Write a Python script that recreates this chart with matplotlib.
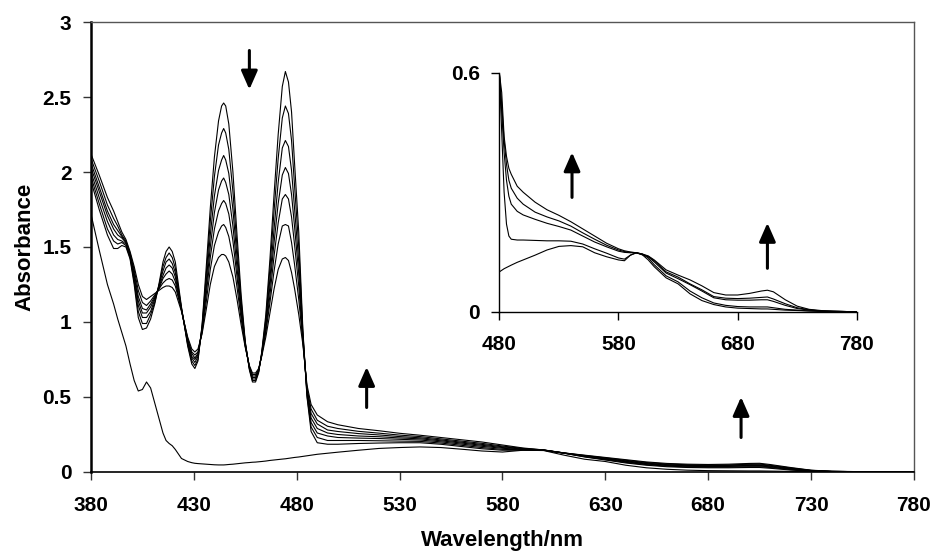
import matplotlib
matplotlib.use('Agg')
import matplotlib.pyplot as plt

plt.rcParams['font.family'] = ['Liberation Sans', 'DejaVu Sans']
plt.rcParams['font.weight'] = 'bold'

# ---- main spectra (wavelength grid shared by all traces) ----
wavelength = [380, 384, 388, 391, 393, 395, 397, 399, 401, 403, 405, 407, 409, 411, 413, 415,
              416.5, 418, 419.5, 421,
              424, 427, 429, 430.5, 432, 434, 436, 438, 440, 442, 443.5, 444.5, 445.5, 447, 449,
              451, 453, 455, 457, 458.5, 460, 461.5, 463, 465, 467, 469, 471, 473, 474.5, 476,
              477.5, 479, 481, 483, 485, 487, 490,
              495, 500, 510, 520, 530, 540, 550, 560, 570, 580, 590, 600, 610, 620, 630, 640,
              650, 660, 670, 680, 690, 700, 705, 710, 720, 730, 740, 760, 780]

abs_t0 = [1.94, 1.75, 1.58, 1.49, 1.49, 1.51, 1.50, 1.42, 1.25, 1.03, 0.95, 0.96, 1.02, 1.12, 1.25, 1.40,
          1.47, 1.50, 1.47, 1.40,
          1.10, 0.84, 0.72, 0.69, 0.74, 0.98, 1.36, 1.76, 2.10, 2.34, 2.44, 2.46, 2.44, 2.32, 2.00,
          1.58, 1.18, 0.87, 0.68, 0.60, 0.60, 0.66, 0.80, 1.05, 1.42, 1.85, 2.25, 2.57, 2.67, 2.60,
          2.40, 2.05, 1.60, 0.95, 0.50, 0.27, 0.195,
          0.185, 0.185, 0.19, 0.193, 0.195, 0.195, 0.185, 0.17, 0.155, 0.145, 0.145, 0.145, 0.125, 0.10, 0.08, 0.06,
          0.045, 0.035, 0.03, 0.028, 0.028, 0.03, 0.03, 0.025, 0.013, 0.005, 0.002, 0.0, 0.0]

abs_t1 = [1.97, 1.79, 1.62, 1.54, 1.52, 1.53, 1.51, 1.43, 1.27, 1.07, 0.99, 0.99, 1.05, 1.13, 1.24, 1.37,
          1.43, 1.46, 1.43, 1.36,
          1.09, 0.85, 0.74, 0.71, 0.75, 0.97, 1.31, 1.67, 1.97, 2.18, 2.26, 2.29, 2.26, 2.15, 1.87,
          1.50, 1.14, 0.86, 0.69, 0.61, 0.61, 0.67, 0.79, 1.02, 1.36, 1.74, 2.09, 2.36, 2.44, 2.39,
          2.21, 1.90, 1.50, 0.93, 0.51, 0.30, 0.23,
          0.21, 0.21, 0.21, 0.208, 0.206, 0.204, 0.193, 0.178, 0.163, 0.151, 0.148, 0.145, 0.125, 0.102, 0.083, 0.064,
          0.049, 0.039, 0.034, 0.032, 0.032, 0.035, 0.035, 0.03, 0.016, 0.006, 0.003, 0.0, 0.0]

abs_t2 = [2.00, 1.83, 1.67, 1.58, 1.55, 1.54, 1.52, 1.44, 1.29, 1.11, 1.03, 1.03, 1.07, 1.15, 1.24, 1.34,
          1.40, 1.42, 1.39, 1.33,
          1.09, 0.86, 0.76, 0.73, 0.77, 0.96, 1.26, 1.58, 1.84, 2.01, 2.08, 2.11, 2.08, 1.99, 1.75,
          1.43, 1.11, 0.86, 0.69, 0.62, 0.62, 0.67, 0.79, 1.00, 1.29, 1.62, 1.93, 2.16, 2.21, 2.17,
          2.01, 1.75, 1.40, 0.91, 0.53, 0.33, 0.26,
          0.24, 0.23, 0.226, 0.223, 0.218, 0.213, 0.201, 0.186, 0.171, 0.158, 0.15, 0.146, 0.126, 0.104, 0.086, 0.068,
          0.053, 0.043, 0.038, 0.036, 0.037, 0.04, 0.04, 0.034, 0.019, 0.008, 0.003, 0.0, 0.0]

abs_t3 = [2.03, 1.87, 1.71, 1.62, 1.58, 1.56, 1.53, 1.45, 1.31, 1.14, 1.06, 1.06, 1.10, 1.16, 1.23, 1.31,
          1.36, 1.38, 1.36, 1.30,
          1.08, 0.87, 0.77, 0.75, 0.78, 0.95, 1.22, 1.50, 1.73, 1.88, 1.94, 1.96, 1.93, 1.85, 1.64,
          1.36, 1.08, 0.85, 0.70, 0.63, 0.63, 0.68, 0.78, 0.97, 1.24, 1.53, 1.79, 1.98, 2.03, 1.99,
          1.85, 1.63, 1.32, 0.90, 0.54, 0.36, 0.29,
          0.26, 0.25, 0.24, 0.235, 0.227, 0.221, 0.208, 0.193, 0.178, 0.163, 0.153, 0.146, 0.126, 0.106, 0.089, 0.071,
          0.056, 0.046, 0.041, 0.039, 0.04, 0.044, 0.044, 0.038, 0.022, 0.009, 0.004, 0.001, 0.0]

abs_t4 = [2.06, 1.90, 1.74, 1.65, 1.61, 1.57, 1.53, 1.45, 1.33, 1.17, 1.09, 1.08, 1.12, 1.17, 1.22, 1.29,
          1.32, 1.34, 1.32, 1.27,
          1.08, 0.88, 0.79, 0.76, 0.79, 0.94, 1.18, 1.43, 1.62, 1.74, 1.79, 1.81, 1.79, 1.72, 1.54,
          1.30, 1.05, 0.84, 0.70, 0.64, 0.64, 0.68, 0.78, 0.95, 1.18, 1.44, 1.66, 1.82, 1.85, 1.82,
          1.70, 1.51, 1.24, 0.88, 0.55, 0.39, 0.32,
          0.28, 0.27, 0.256, 0.247, 0.236, 0.228, 0.214, 0.199, 0.184, 0.168, 0.155, 0.146, 0.126, 0.108, 0.091, 0.074,
          0.059, 0.049, 0.044, 0.042, 0.044, 0.048, 0.048, 0.041, 0.024, 0.01, 0.004, 0.001, 0.0]

abs_t5 = [2.09, 1.94, 1.78, 1.69, 1.64, 1.58, 1.54, 1.46, 1.35, 1.21, 1.13, 1.11, 1.14, 1.18, 1.22, 1.26,
          1.28, 1.29, 1.28, 1.24,
          1.08, 0.89, 0.80, 0.78, 0.80, 0.93, 1.13, 1.35, 1.51, 1.60, 1.64, 1.65, 1.63, 1.57, 1.43,
          1.23, 1.02, 0.84, 0.70, 0.65, 0.65, 0.68, 0.78, 0.93, 1.13, 1.34, 1.52, 1.64, 1.65, 1.64,
          1.53, 1.38, 1.15, 0.87, 0.56, 0.42, 0.345,
          0.305, 0.29, 0.271, 0.259, 0.246, 0.236, 0.221, 0.206, 0.191, 0.173, 0.157, 0.147, 0.127, 0.11, 0.094, 0.078,
          0.063, 0.053, 0.048, 0.046, 0.047, 0.052, 0.053, 0.045, 0.027, 0.011, 0.004, 0.001, 0.0]

abs_t6 = [2.12, 1.98, 1.83, 1.74, 1.67, 1.60, 1.55, 1.47, 1.37, 1.25, 1.17, 1.15, 1.17, 1.19, 1.21, 1.23,
          1.24, 1.24, 1.23, 1.20,
          1.07, 0.90, 0.82, 0.80, 0.82, 0.92, 1.08, 1.25, 1.37, 1.43, 1.45, 1.45, 1.44, 1.40, 1.30,
          1.15, 0.98, 0.83, 0.71, 0.66, 0.66, 0.69, 0.77, 0.90, 1.06, 1.22, 1.35, 1.42, 1.43, 1.41,
          1.33, 1.22, 1.05, 0.85, 0.58, 0.45, 0.38,
          0.335, 0.315, 0.29, 0.275, 0.258, 0.245, 0.23, 0.215, 0.20, 0.18, 0.16, 0.147, 0.127, 0.112, 0.097, 0.082,
          0.067, 0.057, 0.052, 0.05, 0.052, 0.057, 0.058, 0.05, 0.03, 0.012, 0.005, 0.001, 0.0]

abs_final = [1.72, 1.48, 1.25, 1.12, 1.02, 0.93, 0.84, 0.72, 0.61, 0.54, 0.55, 0.60, 0.56, 0.46, 0.36, 0.26,
             0.21, 0.19, 0.175, 0.15,
             0.09, 0.07, 0.062, 0.058, 0.056, 0.054, 0.052, 0.05, 0.048, 0.047, 0.047, 0.047, 0.048, 0.05, 0.052,
             0.055, 0.058, 0.061, 0.063, 0.065, 0.066, 0.068, 0.07, 0.073, 0.077, 0.08, 0.083, 0.086, 0.088, 0.091,
             0.094, 0.097, 0.10, 0.104, 0.108, 0.112, 0.118,
             0.125, 0.132, 0.145, 0.157, 0.163, 0.167, 0.163, 0.152, 0.14, 0.133, 0.145, 0.143, 0.112, 0.085, 0.07, 0.045,
             0.028, 0.018, 0.012, 0.009, 0.008, 0.007, 0.007, 0.006, 0.004, 0.003, 0.002, 0.001, 0.0]

main_series = [abs_t0, abs_t1, abs_t2, abs_t3, abs_t4, abs_t5, abs_t6, abs_final]

# ---- inset spectra ----
wl_inset = [480, 482, 484, 486, 488, 490, 495, 500, 510, 520, 530, 540, 550, 560, 570, 580, 585,
            590, 595, 600, 605, 610, 620, 630, 640, 650, 660, 670, 680, 690, 700, 705, 710, 720,
            730, 740, 750, 760, 780]

inset_a = [0.10, 0.104, 0.108, 0.111, 0.114, 0.117, 0.124, 0.13, 0.142, 0.155, 0.164, 0.166, 0.163,
           0.148, 0.138, 0.13, 0.128, 0.142, 0.148, 0.143, 0.13, 0.113, 0.085, 0.07, 0.045, 0.028,
           0.018, 0.012, 0.009, 0.008, 0.007, 0.007, 0.006, 0.004, 0.003, 0.002, 0.001, 0.001, 0.0]
inset_b = [0.60, 0.45, 0.30, 0.22, 0.19, 0.182, 0.18, 0.18, 0.179, 0.178, 0.178, 0.177, 0.17,
           0.158, 0.147, 0.135, 0.132, 0.142, 0.148, 0.145, 0.135, 0.118, 0.09, 0.075, 0.052, 0.035,
           0.022, 0.016, 0.013, 0.012, 0.012, 0.012, 0.01, 0.006, 0.004, 0.002, 0.001, 0.001, 0.0]
inset_c = [0.60, 0.50, 0.40, 0.33, 0.29, 0.27, 0.252, 0.243, 0.232, 0.222, 0.214, 0.205, 0.19,
           0.175, 0.163, 0.152, 0.149, 0.148, 0.148, 0.143, 0.138, 0.125, 0.097, 0.083, 0.068, 0.052,
           0.035, 0.03, 0.029, 0.029, 0.03, 0.03, 0.026, 0.016, 0.008, 0.004, 0.002, 0.001, 0.0]
inset_d = [0.60, 0.52, 0.43, 0.37, 0.33, 0.31, 0.285, 0.27, 0.25, 0.238, 0.228, 0.215, 0.198,
           0.182, 0.167, 0.155, 0.151, 0.149, 0.148, 0.144, 0.139, 0.128, 0.10, 0.087, 0.07, 0.055,
           0.038, 0.034, 0.033, 0.034, 0.036, 0.037, 0.032, 0.02, 0.01, 0.005, 0.002, 0.001, 0.0]
inset_e = [0.60, 0.55, 0.44, 0.39, 0.36, 0.345, 0.315, 0.30, 0.275, 0.256, 0.242, 0.226, 0.208,
           0.19, 0.172, 0.158, 0.153, 0.15, 0.148, 0.145, 0.14, 0.13, 0.105, 0.092, 0.08, 0.065,
           0.048, 0.042, 0.042, 0.046, 0.052, 0.054, 0.05, 0.03, 0.014, 0.006, 0.003, 0.001, 0.0]

inset_series = [inset_a, inset_b, inset_c, inset_d, inset_e]

x_ticks = [380, 430, 480, 530, 580, 630, 680, 730, 780]
y_ticks = [0, 0.5, 1, 1.5, 2, 2.5, 3]
y_tick_labels = ['0', '0.5', '1', '1.5', '2', '2.5', '3']
inset_x_ticks = [480, 580, 680, 780]
inset_y_ticks = [0, 0.6]

LINE = dict(color='black', linewidth=0.8)
ARROW = dict(arrowstyle='-|>,head_length=0.75,head_width=0.33', color='black',
             lw=2.2, mutation_scale=15, shrinkA=0, shrinkB=0)
TICK_SIZE = 15

fig = plt.figure(figsize=(9.33, 5.53), dpi=100)
ax = fig.add_axes([0.0975, 0.1465, 0.882, 0.8137])

for series in main_series:
    ax.plot(wavelength, series, **LINE)

ax.set_xlim(380, 780)
ax.set_ylim(0, 3)
ax.set_xticks(x_ticks)
ax.set_yticks(y_ticks)
ax.set_yticklabels(y_tick_labels)
ax.tick_params(direction='out', length=6, width=1, labelsize=TICK_SIZE, color='#333333')
ax.tick_params(axis='x', pad=11)
ax.tick_params(axis='y', pad=8)
for lab in ax.get_xticklabels() + ax.get_yticklabels():
    lab.set_fontweight('bold')
ax.spines['left'].set_linewidth(1.8)
ax.spines['bottom'].set_linewidth(1.2)
for side in ('top', 'right'):
    ax.spines[side].set_color('#555555')
    ax.spines[side].set_linewidth(1.0)
ax.set_xlabel('Wavelength/nm', fontsize=16, fontweight='bold', labelpad=11)
ax.set_ylabel('Absorbance', fontsize=16, fontweight='bold', labelpad=5)

# arrows showing direction of change
ax.annotate('', xy=(457, 2.55), xytext=(457, 2.81), arrowprops=ARROW)
ax.annotate('', xy=(514, 0.70), xytext=(514, 0.43), arrowprops=ARROW)
ax.annotate('', xy=(696, 0.50), xytext=(696, 0.23), arrowprops=ARROW)

# inset
axin = fig.add_axes([0.5352, 0.4363, 0.3831, 0.4322])
axin.patch.set_alpha(0)
for series in inset_series:
    axin.plot(wl_inset, series, **LINE)
axin.set_xlim(480, 780)
axin.set_ylim(0, 0.6)
axin.set_xticks(inset_x_ticks)
axin.set_yticks(inset_y_ticks)
axin.set_yticklabels(['0', '0.6'])
axin.tick_params(direction='out', length=6, width=1, labelsize=TICK_SIZE)
axin.tick_params(axis='x', pad=11)
axin.tick_params(axis='y', pad=8)
for lab in axin.get_xticklabels() + axin.get_yticklabels():
    lab.set_fontweight('bold')
for side in ('top', 'right'):
    axin.spines[side].set_visible(False)
axin.spines['left'].set_linewidth(1.0)
axin.spines['bottom'].set_linewidth(1.0)
axin.annotate('', xy=(541, 0.40), xytext=(541, 0.287), arrowprops=ARROW)
axin.annotate('', xy=(705, 0.223), xytext=(705, 0.109), arrowprops=ARROW)

fig.savefig('out.png', dpi=100, facecolor='white')
